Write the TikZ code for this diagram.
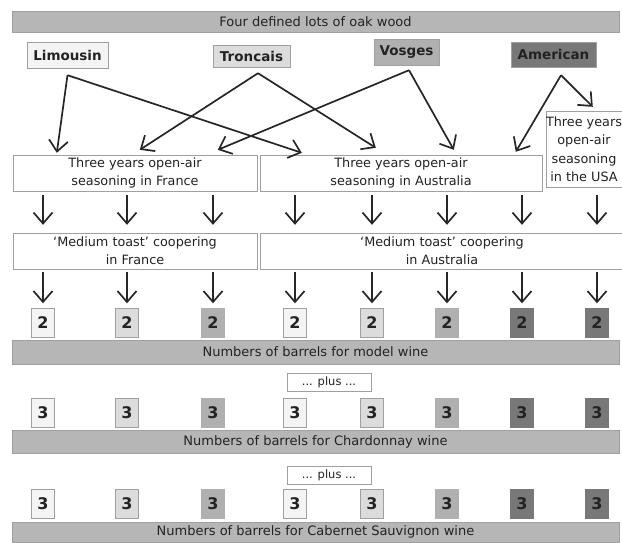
\documentclass[tikz,border=0pt]{standalone}
\usepackage{fontspec}
\setmainfont{DejaVu Sans}
\usepackage{tikz}
\usetikzlibrary{
    positioning,
    arrows.meta
}
\definecolor{BarGray}{RGB}{182,182,182}
\definecolor{EdgeGray}{RGB}{160,160,160}
\definecolor{LimGray}{RGB}{244,244,244}
\definecolor{TroGray}{RGB}{220,220,220}
\definecolor{VosGray}{RGB}{176,176,176}
\definecolor{AmeGray}{RGB}{120,120,120}
\definecolor{InkGray}{RGB}{35,35,35}

\begin{document}
\begin{tikzpicture}[
    x=1pt, y=-1pt,
    bar/.style={rectangle, draw=EdgeGray, fill=BarGray, minimum width=607pt, minimum height=22pt, inner sep=0pt, text=InkGray, font=\fontsize{13}{15}\selectfont},
    wood/.style={rectangle, draw=EdgeGray, minimum height=25pt, inner sep=0pt, text=InkGray, font=\bfseries\fontsize{13.5}{15}\selectfont},
    stage/.style={rectangle, draw=EdgeGray, fill=white, minimum height=36pt, inner sep=0pt, align=center, text=InkGray, font=\fontsize{12.8}{18}\selectfont},
    barrel/.style={rectangle, draw=EdgeGray, minimum width=23pt, minimum height=29pt, inner sep=0pt, text=InkGray, font=\bfseries\fontsize{16}{18}\selectfont},
    plusbox/.style={rectangle, draw=EdgeGray, fill=white, minimum width=84pt, minimum height=18pt, inner sep=0pt, text=InkGray, font=\fontsize{11.5}{13}\selectfont},
    arr/.style={-{Straight Barb[length=11pt,width=19pt]}, line width=1.7pt, color=black!85},
]
\useasboundingbox (0,0) rectangle (622,542);
\clip (0,0) rectangle (622,542);

\node[bar, minimum height=21pt] (lots) at (315.5,21.5) {Four defined lots of oak wood};

% the four lots
\node[wood, fill=LimGray, minimum width=81pt, minimum height=26pt] (lim) at (67.5,55) {Limousin};
\node[wood, fill=TroGray, minimum width=77pt, minimum height=22pt] (tro) at (251.5,56) {Troncais};
\node[wood, fill=VosGray, minimum width=65pt, minimum height=26pt] (vos) at (406.5,52) {Vosges};
\node[wood, fill=AmeGray, minimum width=85pt] (ame) at (553.5,54.5) {American};

% seasoning
\node[stage, minimum width=244pt] (seasF) at (135,173) {Three years open-air\\seasoning in France};
\node[stage, minimum width=282pt] (seasA) at (401,173) {Three years open-air\\seasoning in Australia};
\node[stage, minimum width=76pt, minimum height=76pt, font=\fontsize{12.8}{18.5}\selectfont] (seasU) at (584,149) {Three years\\open-air\\seasoning\\in the USA};

% coopering
\node[stage, minimum width=244pt] (coopF) at (135,251) {`Medium toast' coopering\\in France};
\node[stage, minimum width=364pt] (coopA) at (442,251) {`Medium toast' coopering\\in Australia};

\draw[arr] ([yshift=-7pt]lim.south) -- ([xshift=44pt,yshift=2pt]seasF.north west);
\draw[arr] ([yshift=-7pt]lim.south) -- ([xshift=42pt,yshift=2pt]seasA.north west);
\draw[arr] ([xshift=6.5pt,yshift=-6pt]tro.south) -- ([xshift=127pt,yshift=5pt]seasF.north west);
\draw[arr] ([xshift=6.5pt,yshift=-6pt]tro.south) -- ([xshift=116pt,yshift=7pt]seasA.north west);
\draw[arr] ([xshift=2.5pt,yshift=-5pt]vos.south) -- ([xshift=205pt,yshift=5pt]seasF.north west);
\draw[arr] ([xshift=2.5pt,yshift=-5pt]vos.south) -- ([xshift=194pt,yshift=5pt]seasA.north west);
\draw[arr] ([xshift=7.5pt,yshift=-8pt]ame.south) -- ([xshift=256pt,yshift=3pt]seasA.north west);
\draw[arr] ([xshift=7.5pt,yshift=-8pt]ame.south) -- ([xshift=47pt,yshift=4pt]seasU.north west);

% barrels for model wine
\node[barrel, fill=LimGray] (b1) at (43,323) {2};
\node[barrel, fill=TroGray] (b2) at (127,323) {2};
\node[barrel, fill=VosGray, draw=VosGray] (b3) at (213,323) {2};
\node[barrel, fill=LimGray] (b4) at (295,323) {2};
\node[barrel, fill=TroGray] (b5) at (372,323) {2};
\node[barrel, fill=VosGray, draw=VosGray] (b6) at (447,323) {2};
\node[barrel, fill=AmeGray, draw=AmeGray] (b7) at (522,323) {2};
\node[barrel, fill=AmeGray, draw=AmeGray] (b8) at (597,323) {2};
\node[bar, minimum height=24pt] (model) at (315.5,352) {Numbers of barrels for model wine};

\draw[arr, shorten <=4pt, shorten >=8pt] (seasF.south -| b1) -- (coopF.north -| b1);
\draw[arr, shorten <=4pt, shorten >=8pt] (seasF.south -| b2) -- (coopF.north -| b2);
\draw[arr, shorten <=4pt, shorten >=8pt] (seasF.south -| b3) -- (coopF.north -| b3);
\draw[arr, shorten <=4pt, shorten >=8pt] (seasA.south -| b4) -- (coopA.north -| b4);
\draw[arr, shorten <=4pt, shorten >=8pt] (seasA.south -| b5) -- (coopA.north -| b5);
\draw[arr, shorten <=4pt, shorten >=8pt] (seasA.south -| b6) -- (coopA.north -| b6);
\draw[arr, shorten <=4pt, shorten >=8pt] (seasA.south -| b7) -- (coopA.north -| b7);
\draw[arr, shorten <=8pt, shorten >=8pt] (seasU.south -| b8) -- (coopA.north -| b8);

\draw[arr, shorten <=3pt, shorten >=5pt] (coopF.south -| b1) -- (b1);
\draw[arr, shorten <=3pt, shorten >=5pt] (coopF.south -| b2) -- (b2);
\draw[arr, shorten <=3pt, shorten >=5pt] (coopF.south -| b3) -- (b3);
\draw[arr, shorten <=3pt, shorten >=5pt] (coopA.south -| b4) -- (b4);
\draw[arr, shorten <=3pt, shorten >=5pt] (coopA.south -| b5) -- (b5);
\draw[arr, shorten <=3pt, shorten >=5pt] (coopA.south -| b6) -- (b6);
\draw[arr, shorten <=3pt, shorten >=5pt] (coopA.south -| b7) -- (b7);
\draw[arr, shorten <=3pt, shorten >=5pt] (coopA.south -| b8) -- (b8);

% barrels for Chardonnay
\node[plusbox] (plus1) at (329,382.5) {... plus ...};
\node[barrel, fill=LimGray] (c1) at (43,412.5) {3};
\node[barrel, fill=TroGray] (c2) at (127,412.5) {3};
\node[barrel, fill=VosGray, draw=VosGray] (c3) at (213,412.5) {3};
\node[barrel, fill=LimGray] (c4) at (295,412.5) {3};
\node[barrel, fill=TroGray] (c5) at (372,412.5) {3};
\node[barrel, fill=VosGray, draw=VosGray] (c6) at (447,412.5) {3};
\node[barrel, fill=AmeGray, draw=AmeGray] (c7) at (522,412.5) {3};
\node[barrel, fill=AmeGray, draw=AmeGray] (c8) at (597,412.5) {3};
\node[bar, minimum height=23pt] (chard) at (315.5,441.5) {Numbers of barrels for Chardonnay wine};

% barrels for Cabernet Sauvignon
\node[plusbox] (plus2) at (329,475) {... plus ...};
\node[barrel, fill=LimGray] (d1) at (43,504) {3};
\node[barrel, fill=TroGray] (d2) at (127,504) {3};
\node[barrel, fill=VosGray, draw=VosGray] (d3) at (213,504) {3};
\node[barrel, fill=LimGray] (d4) at (295,504) {3};
\node[barrel, fill=TroGray] (d5) at (372,504) {3};
\node[barrel, fill=VosGray, draw=VosGray] (d6) at (447,504) {3};
\node[barrel, fill=AmeGray, draw=AmeGray] (d7) at (522,504) {3};
\node[barrel, fill=AmeGray, draw=AmeGray] (d8) at (597,504) {3};
\node[bar, minimum height=20pt] (cab) at (315.5,532) {Numbers of barrels for Cabernet Sauvignon wine};
\end{tikzpicture}
\end{document}
